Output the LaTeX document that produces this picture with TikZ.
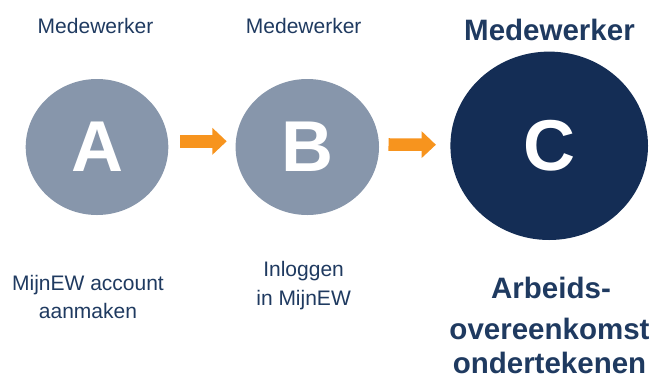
\documentclass[tikz,border=0pt]{standalone}
\usepackage{fontspec}
\setmainfont{Liberation Sans}
\usetikzlibrary{shapes.geometric,arrows.meta}
\definecolor{navytext}{HTML}{1F3A60}
\definecolor{greycirc}{HTML}{8796AB}
\definecolor{darkcirc}{HTML}{142D55}
\definecolor{arroworange}{HTML}{F7941E}
\tikzset{
  lbl/.style={anchor=base, inner sep=0pt, text=navytext, font=\fontsize{21}{25}\selectfont},
  blbl/.style={anchor=base, inner sep=0pt, text=navytext, font=\fontsize{29.5}{35}\selectfont\bfseries},
  stepcirc/.style={ellipse, inner sep=0pt, fill=greycirc, text=white, font=\fontsize{72}{80}\selectfont\bfseries},
  arr/.style={draw=arroworange, line width=12.6pt, -{Triangle[width=26pt,length=14.3pt,fill=arroworange]}}
}
\begin{document}
\begin{tikzpicture}[x=1pt,y=-1pt]
\useasboundingbox (0,0) rectangle (652,378);
% circles
\node[stepcirc, minimum width=142.6pt, minimum height=136pt] (A) at (97,147) {A};
\node[stepcirc, minimum width=143.4pt, minimum height=136pt] (B) at (307.3,147) {B};
\node[stepcirc, fill=darkcirc, minimum width=197.6pt, minimum height=188.4pt] (C) at (549.2,145.8) {C};
% top labels
\node[lbl] (tA) at (95.5,33) {Medewerker};
\node[lbl] (tB) at (303.7,33) {Medewerker};
\node[blbl] (tC) at (549.5,40) {Medewerker};
% bottom labels
\node[lbl] (bA1) at (88,290) {MijnEW account};
\node[lbl] (bA2) at (88,318) {aanmaken};
\node[lbl] (bB1) at (303.6,276.7) {Inloggen};
\node[lbl] (bB2) at (303.6,305) {in MijnEW};
\node[blbl] (bC1) at (551,298.3) {Arbeids-};
\node[blbl] (bC2) at (549.5,339) {overeenkomst};
\node[blbl] (bC3) at (549.5,373) {ondertekenen};
% arrows
\draw[arr, shorten <=11.7pt, shorten >=8.7pt] ([yshift=5.7pt]A.east) -- ([yshift=5.7pt]B.west);
\draw[arr, shorten <=9.3pt, shorten >=14.3pt] ([yshift=2.5pt]B.east) -- ([yshift=1pt]C.west);
\end{tikzpicture}
\end{document}
